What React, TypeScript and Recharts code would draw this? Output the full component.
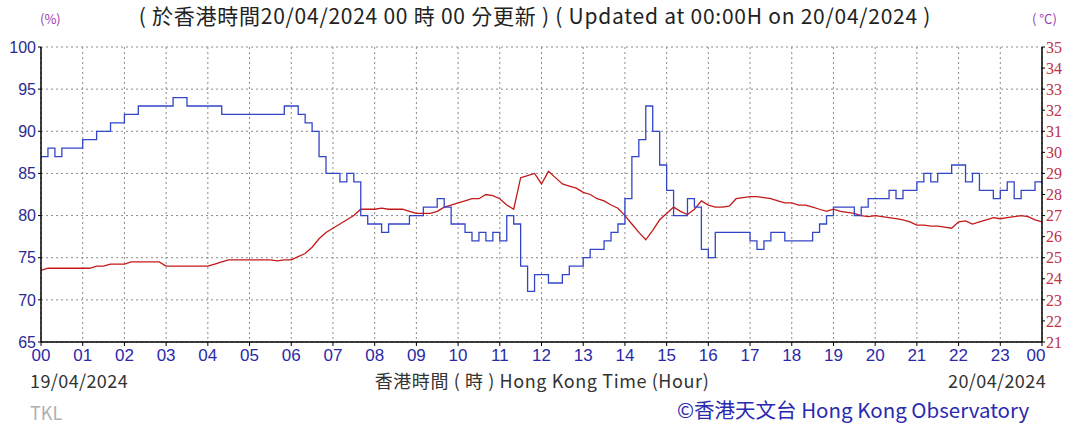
import React from 'react';
import { LineChart, Line, XAxis, YAxis, CartesianGrid } from 'recharts';

// 10-minute readings from 00:00 19/04/2024 to 00:00 20/04/2024
const humidity: number[] = [
  87, 88, 87, 88, 88, 88, 89, 89, 90, 90, 91, 91,
  92, 92, 93, 93, 93, 93, 93, 94, 94, 93, 93, 93,
  93, 93, 92, 92, 92, 92, 92, 92, 92, 92, 92, 93,
  93, 92, 91, 90, 87, 85, 85, 84, 85, 84, 80, 79,
  79, 78, 79, 79, 79, 80, 80, 81, 81, 82, 81, 79,
  79, 78, 77, 78, 77, 78, 77, 80, 79, 74, 71, 73,
  73, 72, 72, 73, 74, 74, 75, 76, 76, 77, 78, 79,
  82, 87, 89, 93, 90, 86, 83, 80, 80, 82, 81, 76,
  75, 78, 78, 78, 78, 78, 77, 76, 77, 78, 78, 77,
  77, 77, 77, 78, 79, 80, 81, 81, 81, 80, 81, 82,
  82, 82, 83, 82, 83, 83, 84, 85, 84, 85, 85, 86,
  86, 84, 85, 83, 83, 82, 83, 84, 82, 83, 83, 84,
  84,
];

const temperature: number[] = [
  24.4, 24.5, 24.5, 24.5, 24.5, 24.5, 24.5, 24.5, 24.6, 24.6, 24.7, 24.7,
  24.7, 24.8, 24.8, 24.8, 24.8, 24.8, 24.6, 24.6, 24.6, 24.6, 24.6, 24.6,
  24.6, 24.7, 24.8, 24.9, 24.9, 24.9, 24.9, 24.9, 24.9, 24.9, 24.85, 24.9,
  24.9, 25.05, 25.2, 25.5, 25.9, 26.2, 26.4, 26.6, 26.8, 27.0, 27.3, 27.3,
  27.3, 27.35, 27.3, 27.3, 27.3, 27.2, 27.1, 27.1, 27.1, 27.2, 27.4, 27.5,
  27.6, 27.7, 27.8, 27.8, 28.0, 27.95, 27.8, 27.5, 27.3, 28.8, 28.9, 29.0,
  28.5, 29.1, 28.8, 28.5, 28.4, 28.3, 28.1, 28.0, 27.8, 27.7, 27.5, 27.35,
  27.0, 26.6, 26.2, 25.85, 26.3, 26.8, 27.1, 27.4, 27.2, 27.05, 27.3, 27.7,
  27.5, 27.4, 27.4, 27.45, 27.8, 27.85, 27.9, 27.9, 27.85, 27.8, 27.7, 27.6,
  27.6, 27.5, 27.5, 27.4, 27.3, 27.2, 27.3, 27.2, 27.15, 27.1, 27.0, 26.95,
  27.0, 26.95, 26.9, 26.85, 26.8, 26.7, 26.55, 26.55, 26.5, 26.5, 26.45, 26.4,
  26.7, 26.75, 26.6, 26.7, 26.8, 26.9, 26.85, 26.9, 26.95, 27.0, 26.95, 26.8,
  26.7,
];

const hourLabels: string[] = [
  '00', '01', '02', '03', '04', '05', '06', '07', '08', '09', '10', '11',
  '12', '13', '14', '15', '16', '17', '18', '19', '20', '21', '22', '23', '00',
];
const rhTicks: number[] = [65, 70, 75, 80, 85, 90, 95, 100];
const tempTicks: number[] = [21, 22, 23, 24, 25, 26, 27, 28, 29, 30, 31, 32, 33, 34, 35];

const data = humidity.map((rh, i) => ({ m: i * 10, rh, t: temperature[i] }));
const hourTicks = hourLabels.map((_, i) => i * 60);

const XTick = (props: any) => {
  const { x, y, payload, index } = props;
  const last = index === hourLabels.length - 1;
  return (
    <text
      x={last ? x - 6 : x}
      y={y + 13}
      textAnchor="middle"
      fill="#2a2aa8"
      fontSize={17}
      fontFamily="'Liberation Sans', Arial, sans-serif"
    >
      {hourLabels[Math.round(payload.value / 60)]}
    </text>
  );
};

const abs = (style: React.CSSProperties): React.CSSProperties => ({
  position: 'absolute',
  whiteSpace: 'nowrap',
  lineHeight: 1,
  ...style,
});

export default function App() {
  return (
    <div
      style={{
        position: 'absolute',
        left: 0,
        top: 0,
        width: 1076,
        height: 428,
        background: '#ffffff',
        fontFamily: "'Noto Sans CJK TC', 'Open Sans', sans-serif",
      }}
    >
      <LineChart
        width={1076}
        height={428}
        data={data}
        margin={{ top: 47, right: 0, bottom: 66, left: 0 }}
      >
        <CartesianGrid
          yAxisId="rh"
          stroke="#8a8a8a"
          strokeDasharray="2 3"
          horizontal
          vertical
        />
        <XAxis
          dataKey="m"
          type="number"
          domain={[0, 1440]}
          ticks={hourTicks}
          interval={0}
          height={20}
          tick={<XTick />}
          tickSize={4}
          axisLine={{ stroke: '#000', strokeWidth: 1.5 }}
          tickLine={{ stroke: '#000' }}
        />
        <YAxis
          yAxisId="rh"
          orientation="left"
          domain={[65, 100]}
          ticks={rhTicks}
          interval={0}
          width={41}
          tickSize={3}
          tickMargin={2}
          axisLine={{ stroke: '#000', strokeWidth: 1.5 }}
          tickLine={{ stroke: '#000' }}
          tick={{ fill: '#2b2b8f', fontSize: 16, fontFamily: "'Liberation Sans', Arial, sans-serif" }}
        />
        <YAxis
          yAxisId="t"
          orientation="right"
          domain={[21, 35]}
          ticks={tempTicks}
          interval={0}
          width={34}
          tickSize={3}
          tickMargin={1}
          axisLine={{ stroke: '#000', strokeWidth: 1.5 }}
          tickLine={{ stroke: '#000' }}
          tick={{ fill: '#c0304c', fontSize: 16, fontFamily: "'Liberation Serif', serif" }}
        />
        <Line
          yAxisId="t"
          dataKey="t"
          type="linear"
          stroke="#c41818"
          strokeWidth={1.3}
          dot={false}
          isAnimationActive={false}
        />
        <Line
          yAxisId="rh"
          dataKey="rh"
          type="stepAfter"
          stroke="#3246c8"
          strokeWidth={1.3}
          dot={false}
          isAnimationActive={false}
        />
      </LineChart>

      <div style={abs({ left: 0, width: 1070, top: 5, textAlign: 'center', fontSize: 21, letterSpacing: 0.75, color: '#222' })}>
        ( 於香港時間20/04/2024 00 時 00 分更新 ) ( Updated at 00:00H on 20/04/2024 )
      </div>
      <div style={abs({ left: 40, top: 12, fontSize: 13, color: '#9a3ab0' })}>(%)</div>
      <div style={abs({ left: 1032, top: 12, fontSize: 13, color: '#9a3ab0' })}>( °C)</div>

      <div style={abs({ left: 30, top: 371, fontSize: 18, letterSpacing: 0.4, color: '#333' })}>19/04/2024</div>
      <div style={abs({ left: 0, width: 1084, top: 371, textAlign: 'center', fontSize: 18, letterSpacing: 0.6, color: '#333' })}>
        香港時間 ( 時 ) Hong Kong Time (Hour)
      </div>
      <div style={abs({ left: 948, top: 371, fontSize: 18, letterSpacing: 0.4, color: '#333' })}>20/04/2024</div>
      <div style={abs({ left: 30, top: 403, fontSize: 18, color: '#b0b0b0' })}>TKL</div>
      <div style={abs({ left: 677, top: 399, fontSize: 20.5, color: '#2a2ab0' })}>©香港天文台 Hong Kong Observatory</div>
    </div>
  );
}
